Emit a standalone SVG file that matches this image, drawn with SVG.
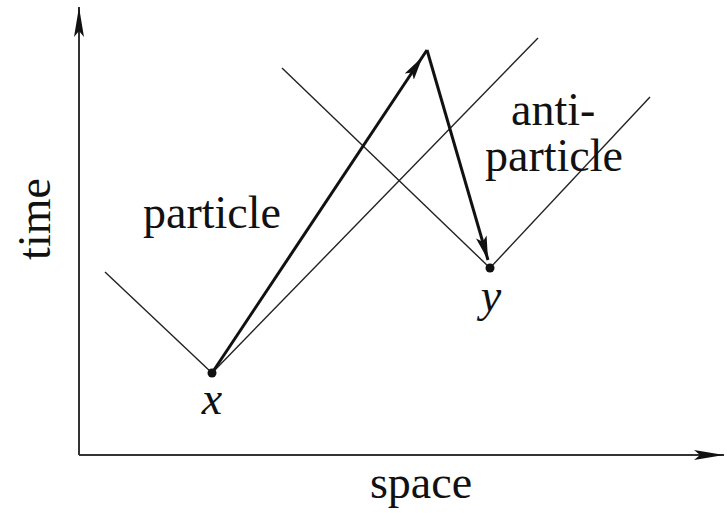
<svg xmlns="http://www.w3.org/2000/svg" width="727" height="513" viewBox="0 0 727 513">
<style>
.t{font-family:"Liberation Serif","Times New Roman",serif;font-size:46px;fill:#111}
.i{font-style:italic}
.thin{stroke:#222;stroke-width:1.4;fill:none}
.thick{stroke:#111;stroke-width:3;fill:none}
.ax{stroke:#333;stroke-width:2;fill:none}
</style>
<defs>
<marker id="ah" viewBox="0 0 24 11" refX="24" refY="5.5" markerWidth="24" markerHeight="11" markerUnits="userSpaceOnUse" orient="auto">
<path d="M0,0 L24,5.5 L0,11 L5,5.5 Z" fill="#111"/>
</marker>
<marker id="ahb" viewBox="0 0 32 11" refX="32" refY="5.5" markerWidth="32" markerHeight="11" markerUnits="userSpaceOnUse" orient="auto">
<path d="M0,0 L24,5.5 L0,11 L5,5.5 Z" fill="#111"/>
</marker>
<marker id="axh" viewBox="0 0 30 12" refX="30" refY="6" markerWidth="30" markerHeight="12" markerUnits="userSpaceOnUse" orient="auto">
<path d="M0,1 L30,6 L0,11 L6,6 Z" fill="#111"/>
</marker>
</defs>
<g id="connectors">
<line class="ax" x1="79" y1="455" x2="79" y2="7" marker-end="url(#axh)"/>
<line class="ax" x1="79" y1="455" x2="724" y2="455" marker-end="url(#axh)"/>
<line class="thin" x1="105" y1="272" x2="212" y2="373"/>
<line class="thin" x1="212" y1="373" x2="538" y2="38"/>
<line class="thin" x1="282" y1="68" x2="490" y2="268"/>
<line class="thin" x1="490" y1="268" x2="650" y2="97"/>
<line class="thick" x1="212" y1="373" x2="427" y2="50" marker-end="url(#ahb)"/>
<line class="thick" x1="427" y1="50" x2="488" y2="260" marker-end="url(#ah)"/>
</g>
<g id="x">
<circle cx="212" cy="373" r="4.5" fill="#111"/>
<text class="t i" x="212" y="414" text-anchor="middle">x</text>
</g>
<g id="y">
<circle cx="490" cy="268" r="4.5" fill="#111"/>
<text class="t i" x="491" y="311" text-anchor="middle">y</text>
</g>
<g id="labels">
<text class="t" x="143" y="228">particle</text>
<text class="t" x="511" y="125">anti-</text>
<text class="t" x="485" y="171">particle</text>
<text class="t" x="421" y="498" text-anchor="middle">space</text>
<text class="t" transform="translate(50,219) rotate(-90)" text-anchor="middle">time</text>
</g>
</svg>
